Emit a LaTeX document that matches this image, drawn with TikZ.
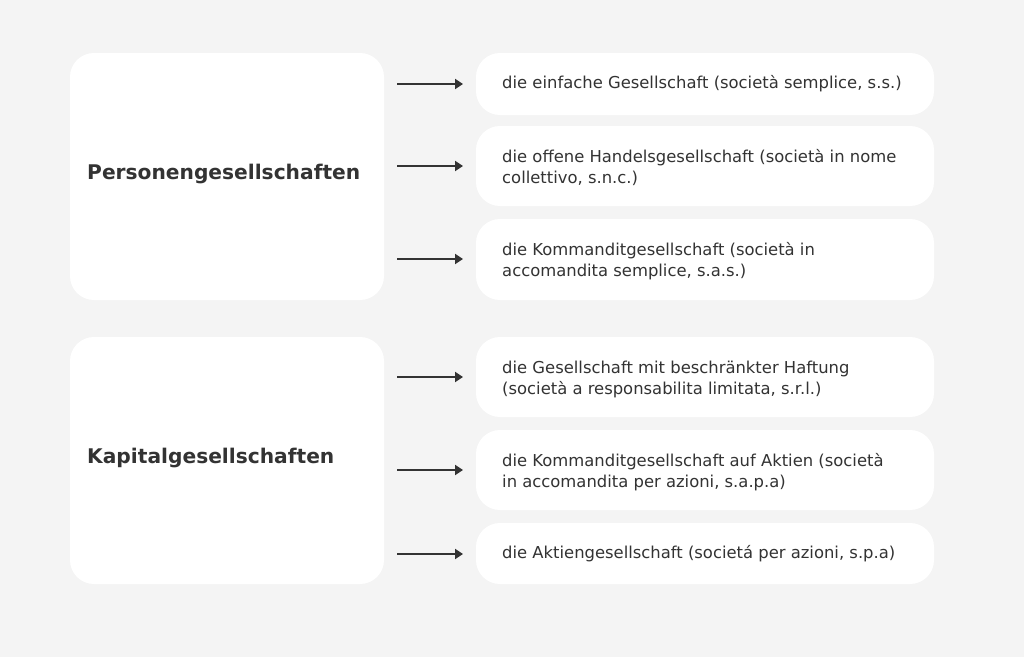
\documentclass[tikz,border=0pt]{standalone}
\usepackage{fontspec}
\setmainfont{DejaVu Sans}
\usetikzlibrary{arrows.meta}
\definecolor{bgc}{HTML}{F4F4F4}
\definecolor{txt}{HTML}{333333}
\begin{document}
\begin{tikzpicture}[x=1pt,y=-1pt,
  catbox/.style={fill=white,draw=none,rounded corners=24pt},
  itembox/.style={fill=white,draw=none,rounded corners=24pt},
  cattext/.style={anchor=west,inner sep=0pt,text=txt,font=\fontsize{20.2}{24}\selectfont\bfseries},
  itemtext/.style={anchor=west,inner sep=0pt,text=txt,align=left,font=\fontsize{16.4}{21}\selectfont},
  arr/.style={draw=txt,line width=2pt,-{Triangle[length=8pt,width=10pt]}}]
\useasboundingbox (0,0) rectangle (1024,657);
\fill[bgc] (0,0) rectangle (1024,657);
% category boxes
\fill[catbox] (70,53) rectangle (384,300);
\fill[catbox] (70,337) rectangle (384,584);
\node[cattext] (p) at (87,174) {Personengesellschaften};
\node[cattext] (k) at (87,458) {Kapitalgesellschaften};
% item boxes
\fill[itembox] (476,53) rectangle (934,115);
\fill[itembox] (476,126) rectangle (934,206);
\fill[itembox] (476,219) rectangle (934,300);
\fill[itembox] (476,337) rectangle (934,417);
\fill[itembox] (476,430) rectangle (934,510);
\fill[itembox] (476,523) rectangle (934,584);
\node[itemtext] (i1) at (502,84) {die einfache Gesellschaft (società semplice, s.s.)};
\node[itemtext] (i2) at (502,168) {die offene Handelsgesellschaft (società in nome\\collettivo, s.n.c.)};
\node[itemtext] (i3) at (502,261) {die Kommanditgesellschaft (società in\\accomandita semplice, s.a.s.)};
\node[itemtext] (i4) at (502,379) {die Gesellschaft mit beschränkter Haftung\\(società a responsabilita limitata, s.r.l.)};
\node[itemtext] (i5) at (502,472) {die Kommanditgesellschaft auf Aktien (società\\in accomandita per azioni, s.a.p.a)};
\node[itemtext] (i6) at (502,554) {die Aktiengesellschaft (societá per azioni, s.p.a)};
% arrows
\foreach \n/\y in {1/84,2/166,3/259,4/377,5/470,6/554}{
  \coordinate (a\n) at (397,\y);
  \coordinate (b\n) at (463,\y);
  \draw[arr] (a\n) -- (b\n);
}
\end{tikzpicture}
\end{document}
